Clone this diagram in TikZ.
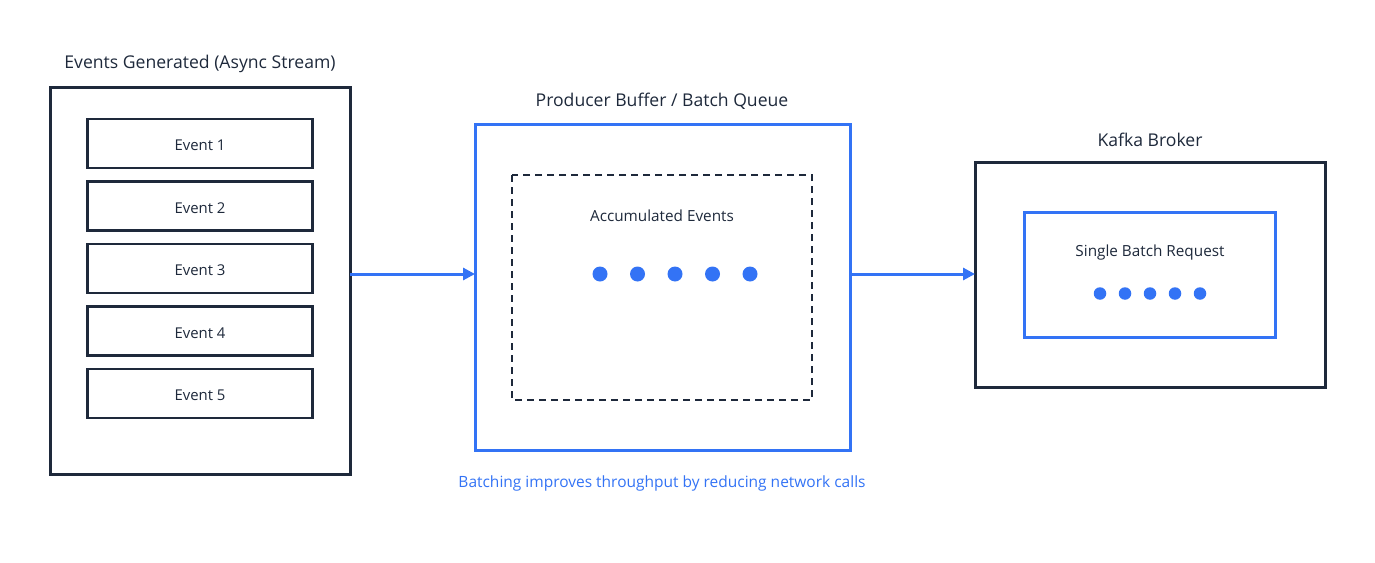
\documentclass[tikz,border=0pt]{standalone}
\usepackage{fontspec}
\setmainfont{Open Sans}
\usetikzlibrary{arrows.meta}
\definecolor{navy}{HTML}{1E293B}
\definecolor{bblue}{HTML}{3373F5}
\tikzset{
  outerbox/.style={draw=navy, line width=3pt, fill=white},
  bluebox/.style={draw=bblue, line width=3pt},
  eventbox/.style={draw=navy, line width=2.4pt, minimum width=225pt, minimum height=49pt, inner sep=0pt, font=\fontsize{14.9}{17}\selectfont, text=navy, text height=14.5pt, text depth=0pt},
  dashbox/.style={draw=navy, line width=2.3pt, dash pattern=on 7pt off 5pt},
  title/.style={font=\fontsize{17.6}{20}\selectfont, text=navy, inner sep=0pt, yshift=-1.5pt},
  label/.style={font=\fontsize{15.3}{17}\selectfont, text=navy, inner sep=0pt, yshift=-1.5pt},
  dotm/.style={circle, fill=bblue, inner sep=0pt},
  flow/.style={draw=bblue, line width=3pt, -{Triangle[length=12pt,width=12pt]}},
}
\begin{document}
\begin{tikzpicture}[x=1pt,y=-1pt]
\useasboundingbox (0,0) rectangle (1375,562);
% left
\node[title] (t1) at (200,62) {Events Generated (Async Stream)};
\draw[outerbox] (50,87) rectangle (350,474);
\coordinate (lout) at (350,274);
\node[eventbox] (e1) at (200,143.5) {Event 1};
\node[eventbox] (e2) at (200,206) {Event 2};
\node[eventbox] (e3) at (200,268.5) {Event 3};
\node[eventbox] (e4) at (200,331) {Event 4};
\node[eventbox] (e5) at (200,393.5) {Event 5};
% middle
\node[title] (t2) at (662,100) {Producer Buffer / Batch Queue};
\draw[bluebox] (475,124) rectangle (850,450);
\coordinate (min) at (475,274);
\coordinate (mout) at (850,274);
\draw[dashbox] (512,175) rectangle (812,400);
\node[label] (acc) at (662,214) {Accumulated Events};
\foreach \i/\x in {1/600,2/637.5,3/675,4/712.5,5/750}
  \node[dotm, minimum size=15pt] (m\i) at (\x,274) {};
% right
\node[title] (t3) at (1150,138) {Kafka Broker};
\draw[outerbox] (975,162) rectangle (1325,387);
\coordinate (rin) at (975,274);
\draw[bluebox] (1024,212) rectangle (1275,337);
\node[label] (sbr) at (1150,251) {Single Batch Request};
\foreach \i/\x in {1/1100,2/1125,3/1150,4/1175,5/1200}
  \node[dotm, minimum size=12.5pt] (r\i) at (\x,293.5) {};
% arrows
\draw[flow] (lout) -- (min);
\draw[flow] (mout) -- (rin);
% caption
\node[label, text=bblue, font=\fontsize{15.5}{17}\selectfont] (cap) at (662,482) {Batching improves throughput by reducing network calls};
\end{tikzpicture}
\end{document}
